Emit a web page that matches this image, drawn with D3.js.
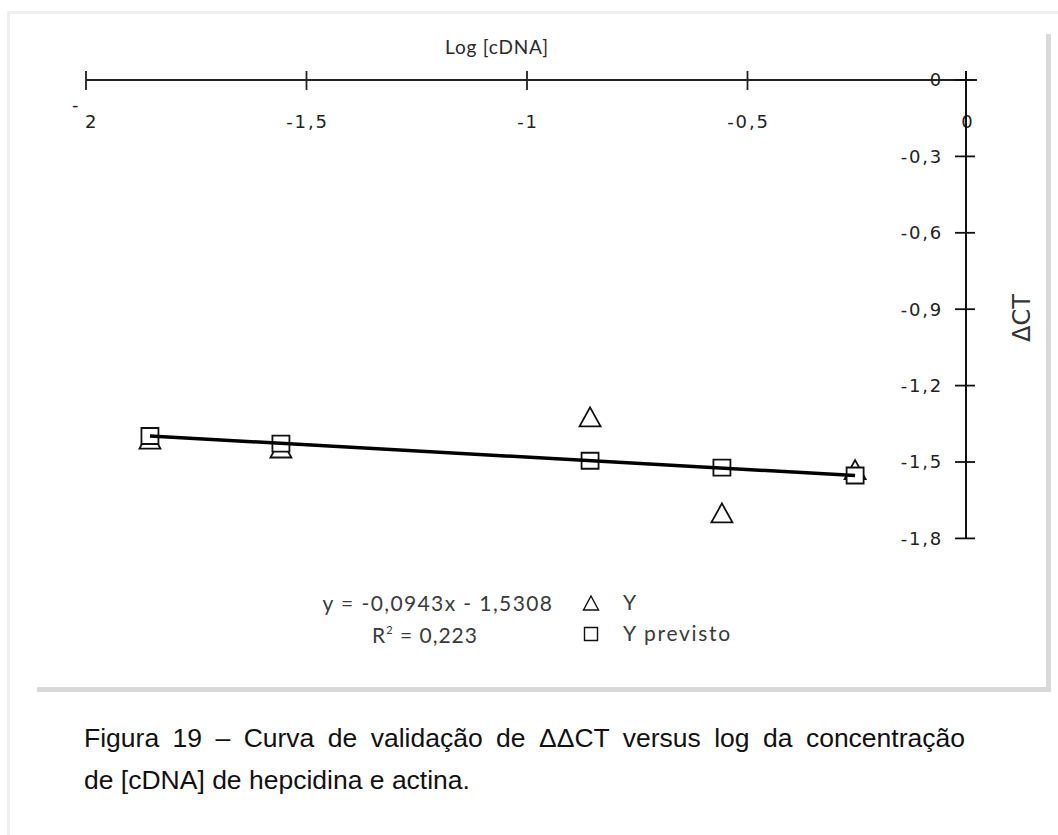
<!DOCTYPE html>
<html><head><meta charset="utf-8">
<script src="https://d3js.org/d3.v7.min.js"></script>
<style>
html,body{margin:0;padding:0;background:#fff;}
svg{display:block;}
</style></head>
<body>
<script>
// ---- data ----
const xValues = [-1.855, -1.558, -0.857, -0.558, -0.256];   // Log [cDNA]
const yObserved = [-1.41, -1.445, -1.323, -1.70, -1.53];     // Y
const yPredicted = [-1.398, -1.428, -1.495, -1.522, -1.553];  // Y previsto
const xTicks = [-2, -1.5, -1, -0.5, 0];
const yTicks = [0, -0.3, -0.6, -0.9, -1.2, -1.5, -1.8];
const seriesNames = ["Y", "Y previsto"];
const equationText = "y = -0,0943x - 1,5308";
const r2Value = "0,223";
const xTitle = "Log [cDNA]";
const yTitle = "ΔCT";
const captionLines = ["Figura 19 – Curva de validação de ΔΔCT versus log da concentração",
                      "de [cDNA] de hepcidina e actina."];

const W = 1058, H = 835;
const svg = d3.select("body").append("svg").attr("width", W).attr("height", H);
svg.append("rect").attr("width", W).attr("height", H).attr("fill", "#fff");

// page frame and chart shadow
svg.append("rect").attr("x", 8.5).attr("y", 12.5).attr("width", 1100).attr("height", 900)
  .attr("fill", "none").attr("stroke", "#efefef").attr("stroke-width", 3);
svg.append("rect").attr("x", 1046).attr("y", 34).attr("width", 5).attr("height", 658).attr("fill", "#d9d9d9");
svg.append("rect").attr("x", 37).attr("y", 687).attr("width", 1014).attr("height", 5).attr("fill", "#d9d9d9");

const x = d3.scaleLinear().domain([-2, 0]).range([86, 968]);
const y = d3.scaleLinear().domain([-1.8, 0]).range([538.4, 80]);
const fmt = d => d3.format(".1~f")(d).replace(".", ",").replace("−", "-");

const tickFont = {family: "DejaVu Sans", size: 18, ls: 1.8, fill: "#222"};

// X axis (top)
const xAxisG = svg.append("g").attr("transform", `translate(0,${y(0)})`);
xAxisG.append("line").attr("x1", x(-2)).attr("x2", x(0) + 9).attr("y1", 0).attr("y2", 0)
  .attr("stroke", "#222").attr("stroke-width", 2);
xAxisG.selectAll("line.tk").data(xTicks.filter(d => d !== 0)).join("line").attr("class", "tk")
  .attr("x1", d => x(d)).attr("x2", d => x(d)).attr("y1", -9).attr("y2", 10)
  .attr("stroke", "#222").attr("stroke-width", 1.8);
const xl = xAxisG.selectAll("text.tl").data(xTicks).join("text").attr("class", "tl")
  .attr("y", 48)
  .attr("font-family", tickFont.family).attr("font-size", tickFont.size).attr("letter-spacing", tickFont.ls)
  .attr("fill", tickFont.fill);
xl.each(function(d){
  const t = d3.select(this);
  if (d === -2) {
    t.attr("x", x(d) - 14).attr("text-anchor", "start");
    t.append("tspan").attr("dy", -17).text("-");
    t.append("tspan").attr("x", x(d) - 1).attr("dy", 17).text("2");
  } else {
    t.attr("x", d === 0 ? x(d) : x(d) + 1).attr("text-anchor", "middle").text(fmt(d));
  }
});

// Y axis (right, at x = 0)
const yAxisG = svg.append("g").attr("transform", `translate(${x(0) - 2},0)`);
yAxisG.append("line").attr("x1", 0).attr("x2", 0).attr("y1", y(0) - 9).attr("y2", y(-1.8))
  .attr("stroke", "#111").attr("stroke-width", 2);
yAxisG.selectAll("line.tk").data(yTicks).join("line").attr("class", "tk")
  .attr("x1", -11).attr("x2", 9).attr("y1", d => y(d)).attr("y2", d => y(d))
  .attr("stroke", "#111").attr("stroke-width", 1.8);
yAxisG.selectAll("text.tl").data(yTicks).join("text").attr("class", "tl")
  .attr("x", -23).attr("y", d => y(d)).attr("dy", "0.36em")
  .attr("text-anchor", "end")
  .attr("font-family", tickFont.family).attr("font-size", tickFont.size).attr("letter-spacing", tickFont.ls)
  .attr("fill", tickFont.fill).text(d => fmt(d));

// axis titles
svg.append("text").attr("x", 497).attr("y", 54).attr("text-anchor", "middle")
  .attr("font-family", "Lato").attr("font-size", 19).attr("letter-spacing", 0.8)
  .attr("fill", "#2a2a2a").text(xTitle);
svg.append("text").attr("transform", "translate(1030,318) rotate(-90)").attr("text-anchor", "middle")
  .attr("font-family", "DejaVu Sans").attr("font-size", 24).attr("fill", "#333").text(yTitle);

// markers
const triPath = (cx, cy, w, h) => `M${cx},${cy - h/2}L${cx + w/2},${cy + h/2}L${cx - w/2},${cy + h/2}Z`;
const sqPath = (cx, cy, w, h) => `M${cx - w/2},${cy - h/2}h${w}v${h}h${-w}Z`;
const pts = xValues.map((v, i) => ({x: v, yo: yObserved[i], yp: yPredicted[i]}));

svg.append("g").selectAll("path").data(pts).join("path")
  .attr("d", d => triPath(x(d.x), y(d.yo), 21, 19))
  .attr("fill", "#fff").attr("stroke", "#111").attr("stroke-width", 1.8);
svg.append("g").selectAll("path").data(pts).join("path")
  .attr("d", d => sqPath(x(d.x), y(d.yp), 17, 16))
  .attr("fill", "#fff").attr("stroke", "#111").attr("stroke-width", 1.8);

// trend line
const line = d3.line().x(d => x(d.x)).y(d => y(d.yp));
svg.append("path").datum([pts[0], pts[pts.length - 1]]).attr("d", line)
  .attr("fill", "none").attr("stroke", "#000").attr("stroke-width", 3.5);

// equation
const eqFont = {family: "Lato", size: 21, ls: 1.4, fill: "#3a3a3a"};
svg.append("text").attr("x", 438).attr("y", 611).attr("text-anchor", "middle")
  .attr("font-family", eqFont.family).attr("font-size", eqFont.size).attr("letter-spacing", eqFont.ls)
  .attr("fill", eqFont.fill).text(equationText);
const r2 = svg.append("text").attr("x", 425).attr("y", 643).attr("text-anchor", "middle")
  .attr("font-family", eqFont.family).attr("font-size", eqFont.size).attr("letter-spacing", 1)
  .attr("fill", eqFont.fill);
r2.append("tspan").text("R");
r2.append("tspan").attr("dy", -9).attr("font-size", 11).text("2");
r2.append("tspan").attr("dy", 9).text(" = " + r2Value);

// legend
const lg = svg.append("g");
lg.append("path").attr("d", triPath(591, 603, 15, 14)).attr("fill", "none").attr("stroke", "#111").attr("stroke-width", 1.4);
lg.append("path").attr("d", sqPath(591, 634, 13, 13)).attr("fill", "none").attr("stroke", "#111").attr("stroke-width", 1.4);
lg.selectAll("text").data(seriesNames).join("text")
  .attr("x", 623).attr("y", (d, i) => 610 + i * 31)
  .attr("font-family", eqFont.family).attr("font-size", eqFont.size).attr("letter-spacing", 1.7)
  .attr("fill", eqFont.fill).text(d => d);

// caption (first line justified)
const capSize = 26.5;
const cap1 = svg.append("text").attr("x", 84).attr("y", 747)
  .attr("font-family", "Liberation Sans, Arial").attr("font-size", capSize).attr("fill", "#111")
  .text(captionLines[0]);
const natural = cap1.node().getComputedTextLength();
const nSpaces = (captionLines[0].match(/ /g) || []).length;
const target = 881;
if (natural < target) cap1.attr("word-spacing", (target - natural) / nSpaces);
else cap1.attr("textLength", target).attr("lengthAdjust", "spacingAndGlyphs");
svg.append("text").attr("x", 84).attr("y", 789)
  .attr("font-family", "Liberation Sans, Arial").attr("font-size", capSize).attr("fill", "#111")
  .text(captionLines[1]);
</script>
</body></html>
